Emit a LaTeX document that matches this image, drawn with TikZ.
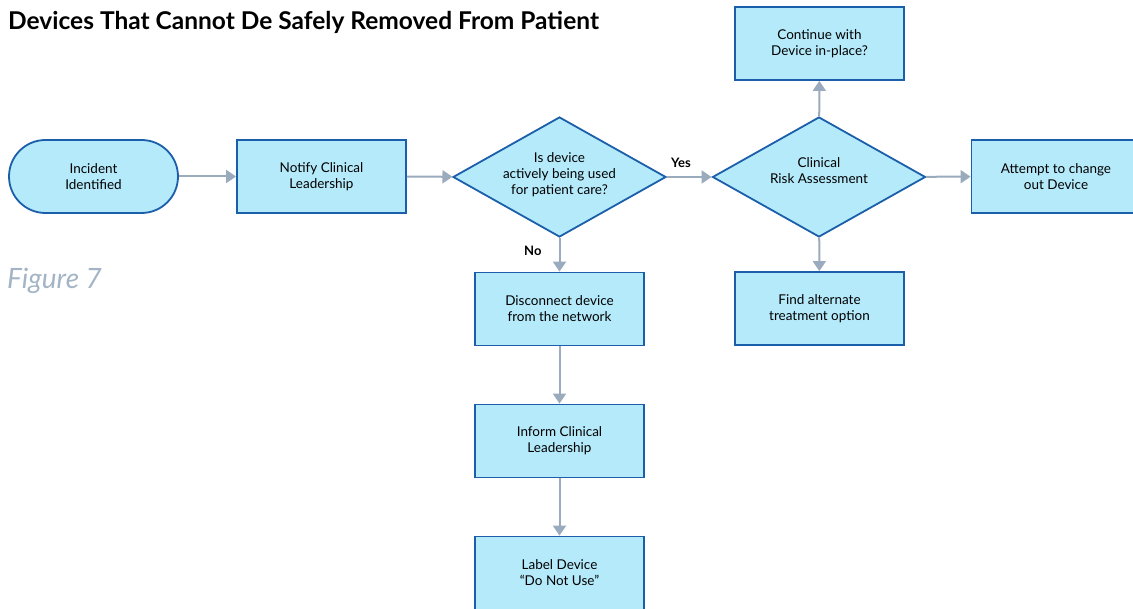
\documentclass[tikz,border=0pt]{standalone}
\usepackage{fontspec}
\setmainfont{Lato}
\usetikzlibrary{shapes.geometric,arrows.meta}
\definecolor{boxfill}{HTML}{B5EAFB}
\definecolor{boxline}{HTML}{1B5EAA}
\definecolor{flow}{HTML}{9AABBD}
\definecolor{caption}{HTML}{A3B4C6}
% raise multi-line node text without changing the node's box
\newcommand{\liftlines}[2]{\raisebox{#1}[\height][\depth]{\begin{tabular}{@{}c@{}}#2\end{tabular}}}
\begin{document}
\begin{tikzpicture}[x=1pt,y=-1pt,
  base/.style={draw=boxline, fill=boxfill, line width=1.8pt, align=center,
    font=\fontsize{13.5}{16}\selectfont, inner sep=0pt},
  stepbox/.style={base, rectangle, minimum width=169pt, minimum height=73pt},
  terminal/.style={base, rectangle, rounded corners=36.5pt, minimum width=169pt, minimum height=73pt},
  decision/.style={base, diamond, aspect=1.775, minimum width=213pt, minimum height=120pt},
  flowarrow/.style={draw=flow, line width=2pt, -{Triangle[length=10pt,width=13pt]}},
  branch/.style={font=\bfseries\fontsize{13}{15}\selectfont, inner sep=0pt, anchor=base west}
]
\useasboundingbox (0,0) rectangle (1133,609);

% headings
\node[anchor=base west, inner sep=0pt, font=\bfseries\fontsize{24.5}{29}\selectfont] (title) at (8,30)
  {Devices That Cannot De Safely Removed From Patient};
\node[anchor=base west, inner sep=0pt, text=caption, font=\itshape\fontsize{28}{33}\selectfont] (fig) at (7,289)
  {Figure 7};

% flow nodes
\node[terminal] (incident) at (93.5,176.5) {Incident\\Identified};
\node[stepbox]  (notify)   at (321.5,176.5) {Notify Clinical\\Leadership};
\node[decision] (inuse)    at (559.5,177)
  {\liftlines{2pt}{Is device\\actively being used\\for patient care?}};
\node[decision] (risk)     at (819,177)
  {\liftlines{5pt}{Clinical\\Risk Assessment}};
\node[stepbox]  (continue) at (819.5,43.5) {Continue with\\Device in-place?};
\node[stepbox]  (attempt)  at (1056,176.5) {Attempt to change\\out Device};
\node[stepbox]  (alternate) at (819.5,308.5) {Find alternate\\treatment option};
\node[stepbox]  (disconnect) at (559.5,309) {Disconnect device\\from the network};
\node[stepbox]  (inform)   at (559.5,441) {Inform Clinical\\Leadership};
\node[stepbox]  (labeldev) at (559.5,573) {Label Device\\``Do Not Use''};

% connectors
\draw[flowarrow] (incident) -- (notify);
\draw[flowarrow] (notify) -- (inuse);
\draw[flowarrow] (inuse) -- (risk);
\draw[flowarrow] (inuse) -- (disconnect);
\draw[flowarrow] (disconnect) -- (inform);
\draw[flowarrow] (inform) -- (labeldev);
\draw[flowarrow] (risk) -- (continue);
\draw[flowarrow] (risk) -- (alternate);
\draw[flowarrow] (risk) -- (attempt);

% branch labels
\node[branch] (yes) at (671,168) {Yes};
\node[branch] (no)  at (524,256) {No};
\end{tikzpicture}
\end{document}
